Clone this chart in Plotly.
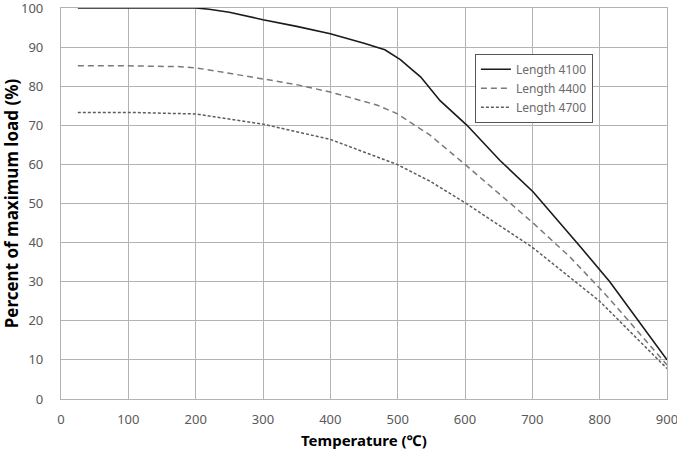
import plotly.graph_objects as go

temp_4100 = [25, 100, 200, 220, 250, 300, 350, 400, 450, 481, 504, 523, 534, 563, 603, 652, 701, 771, 815, 900]
load_4100 = [100, 100, 100, 99.7, 98.9, 97.0, 95.3, 93.4, 91.0, 89.3, 86.8, 84.0, 82.4, 76.3, 70.0, 61.0, 53.0, 39.0, 30.0, 10.0]

temp_4400 = [25, 100, 177, 200, 250, 300, 350, 400, 469, 499, 548, 600, 700, 756, 810, 900]
load_4400 = [85.2, 85.2, 85.0, 84.7, 83.3, 81.8, 80.4, 78.5, 75.2, 73.0, 67.5, 60.0, 45.2, 36.3, 26.5, 8.7]

temp_4700 = [25, 100, 200, 251, 300, 400, 499, 548, 601, 700, 750, 800, 900]
load_4700 = [73.3, 73.3, 72.9, 71.5, 70.3, 66.4, 60.0, 55.7, 50.1, 38.8, 32.0, 25.0, 7.8]

series_names = ["Length 4100", "Length 4400", "Length 4700"]

fig = go.Figure()
fig.add_trace(go.Scatter(x=temp_4100, y=load_4100, mode="lines", name=series_names[0],
                         line=dict(color="#1a1a1a", width=1.6, dash="solid")))
fig.add_trace(go.Scatter(x=temp_4400, y=load_4400, mode="lines", name=series_names[1],
                         line=dict(color="#7a7a7a", width=1.5, dash="6px,4px")))
fig.add_trace(go.Scatter(x=temp_4700, y=load_4700, mode="lines", name=series_names[2],
                         line=dict(color="#5e5e5e", width=1.5, dash="3px,2px")))

grid = "#b3b3b3"
fig.update_layout(
    width=677, height=450,
    margin=dict(l=61, r=10, t=8, b=51, autoexpand=False),
    paper_bgcolor="white", plot_bgcolor="white",
    font=dict(family="Noto Sans", color="#595959", size=13),
    showlegend=True,
    legend=dict(x=0.683, y=0.883, xanchor="left", yanchor="top",
                bgcolor="white", bordercolor="#555555", borderwidth=1,
                font=dict(size=12, color="#6b6b6b"), tracegroupgap=0,
                itemwidth=30),
    xaxis=dict(range=[0, 900], dtick=100, tick0=0, showgrid=True, gridcolor=grid, gridwidth=1.2,
               showline=True, linecolor=grid, linewidth=1.2, mirror=True, zeroline=False,
               ticks="", ticklabelstandoff=8, ticklabeloverflow="allow"),
    yaxis=dict(range=[0, 100], dtick=10, tick0=0, showgrid=True, gridcolor=grid, gridwidth=1.2,
               showline=True, linecolor=grid, linewidth=1.2, mirror=True, zeroline=False,
               ticks="", ticklabelstandoff=14, ticklabeloverflow="allow",
               title=dict(text="Percent of maximum load (%)", standoff=6,
                          font=dict(family="Noto Sans", size=17, color="#000000", weight="bold"))),
    annotations=[dict(text="<b>Temperature (℃)</b>", xref="paper", yref="paper",
                      x=0.5, y=-0.104, xanchor="center", yanchor="middle", showarrow=False,
                      font=dict(family="Noto Sans", size=15, color="#000000"))],
)

fig.write_html("out.html")
